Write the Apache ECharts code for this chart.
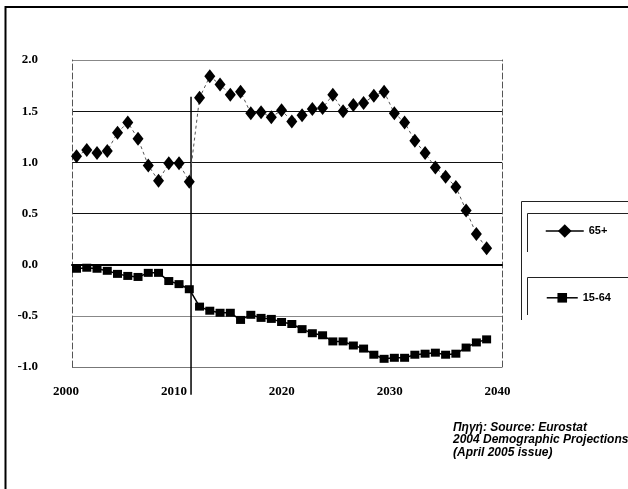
<!DOCTYPE html>
<html>
<head>
<meta charset="utf-8">
<script src="https://cdn.jsdelivr.net/npm/echarts@6/dist/echarts.min.js"></script>
<style>
  html, body { margin: 0; padding: 0; background: #fff; }
  #chart { width: 628px; height: 489px; }
</style>
</head>
<body>
<div id="chart"></div>
<script>
var years = [2000, 2001, 2002, 2003, 2004, 2005, 2006, 2007, 2008, 2009,
  2010, 2011, 2012, 2013, 2014, 2015, 2016, 2017, 2018, 2019,
  2020, 2021, 2022, 2023, 2024, 2025, 2026, 2027, 2028, 2029,
  2030, 2031, 2032, 2033, 2034, 2035, 2036, 2037, 2038, 2039, 2040];

// 65+
var older = [1.06, 1.12, 1.09, 1.11, 1.29, 1.39, 1.23, 0.97, 0.82, 0.99,
  0.99, 0.81, 1.63, 1.84, 1.76, 1.66, 1.69, 1.48, 1.49, 1.44,
  1.51, 1.40, 1.46, 1.52, 1.53, 1.66, 1.50, 1.56, 1.58, 1.65,
  1.69, 1.48, 1.39, 1.21, 1.09, 0.95, 0.86, 0.76, 0.53, 0.30, 0.16];

// 15-64
var working = [-0.04, -0.03, -0.04, -0.06, -0.09, -0.11, -0.12, -0.08, -0.08, -0.16,
  -0.19, -0.24, -0.41, -0.45, -0.47, -0.47, -0.54, -0.49, -0.52, -0.53,
  -0.56, -0.58, -0.63, -0.67, -0.69, -0.75, -0.75, -0.79, -0.82, -0.88,
  -0.92, -0.91, -0.91, -0.88, -0.87, -0.86, -0.88, -0.87, -0.81, -0.76, -0.73];

var yearTicks = [2000, 2010, 2020, 2030, 2040];

// vertical divider line
var dividerYear = 2011.17;
var dividerRange = [1.64, -1.27];

var chart = echarts.init(document.getElementById('chart'));

var labelFont = {
  fontFamily: 'Liberation Serif',
  fontWeight: 'bold',
  fontSize: 13,
  color: '#000'
};

var option = {
  backgroundColor: '#fff',
  animation: false,
  title: {
    text: 'Πηγή: Source: Eurostat\n2004 Demographic Projections\n(April 2005 issue)',
    left: 453,
    top: 421,
    padding: 0,
    textStyle: {
      fontFamily: 'Liberation Sans',
      fontStyle: 'italic',
      fontWeight: 'bold',
      fontSize: 12,
      lineHeight: 12.5,
      color: '#000'
    }
  },
  legend: [
    {
      data: ['65+'],
      left: 545,
      top: 224.2,
      padding: 0,
      itemWidth: 38,
      itemHeight: 17,
      lineStyle: { color: '#000', width: 1.5, type: 'solid' },
      textStyle: { fontFamily: 'Liberation Sans', fontWeight: 'bold', fontSize: 11, color: '#000' }
    },
    {
      data: ['15-64'],
      left: 546,
      top: 292.3,
      padding: 0,
      itemWidth: 31,
      itemHeight: 12,
      lineStyle: { color: '#000', width: 1.5, type: 'solid' },
      textStyle: { fontFamily: 'Liberation Sans', fontWeight: 'bold', fontSize: 11, color: '#000' }
    }
  ],
  graphic: [
    { type: 'polyline', shape: { points: [[5.5, 489], [5.5, 7], [628, 7]] },
      style: { stroke: '#000', lineWidth: 2, fill: null }, silent: true },
    { type: 'polyline', shape: { points: [[628, 201.5], [521.5, 201.5], [521.5, 320]] },
      style: { stroke: '#222', lineWidth: 1, fill: null }, silent: true },
    { type: 'polyline', shape: { points: [[628, 213.5], [527.5, 213.5], [527.5, 252]] },
      style: { stroke: '#222', lineWidth: 1, fill: null }, silent: true },
    { type: 'polyline', shape: { points: [[628, 277.5], [527.5, 277.5], [527.5, 315]] },
      style: { stroke: '#222', lineWidth: 1, fill: null }, silent: true }
  ],
  grid: [
    { left: 72, right: 126, top: 60, bottom: 122 },
    { left: 66, right: 130.5, top: 60, bottom: 122 },
    { left: 72, right: 126, top: 60, bottom: 81.07 }
  ],
  xAxis: [
    {
      gridIndex: 0,
      type: 'value',
      min: 1999.56,
      max: 2041.5,
      axisLine: { show: true, onZero: true, lineStyle: { color: '#000', width: 2 } },
      axisTick: { show: false },
      axisLabel: { show: false },
      splitLine: { show: false }
    },
    {
      gridIndex: 1,
      type: 'value',
      min: yearTicks[0],
      max: yearTicks[yearTicks.length - 1],
      interval: 10,
      axisLine: { show: false },
      axisTick: { show: false },
      splitLine: { show: false },
      axisLabel: Object.assign({
        margin: 18,
        formatter: function (v) { return String(v); }
      }, labelFont)
    },
    {
      gridIndex: 2,
      type: 'value',
      min: 1999.56,
      max: 2041.5,
      show: false
    }
  ],
  yAxis: [
    {
      gridIndex: 0,
      type: 'value',
      min: -1,
      max: 2,
      interval: 0.5,
      axisLine: { show: true, lineStyle: { color: '#555', width: 1, type: [6, 3] } },
      axisTick: { show: false },
      axisLabel: Object.assign({
        margin: 34,
        formatter: function (v) { return v.toFixed(1); }
      }, labelFont),
      splitLine: {
        show: true,
        lineStyle: {
          color: ['#777', '#888', '#000', '#111', '#111', '#111', '#888'],
          width: 1
        }
      }
    },
    {
      gridIndex: 0,
      type: 'value',
      position: 'right',
      min: -1,
      max: 2,
      axisLine: { show: true, lineStyle: { color: '#555', width: 1, type: [6, 3] } },
      axisTick: { show: false },
      axisLabel: { show: false },
      splitLine: { show: false }
    },
    { gridIndex: 1, type: 'value', min: 0, max: 1, show: false },
    { gridIndex: 2, type: 'value', min: -1.4, max: 2, show: false }
  ],
  series: [
    {
      name: 'divider',
      type: 'line',
      xAxisIndex: 2,
      yAxisIndex: 3,
      silent: true,
      symbol: 'none',
      lineStyle: { color: '#000', width: 1.5 },
      data: [[dividerYear, dividerRange[0]], [dividerYear, dividerRange[1]]],
      z: 1
    },
    {
      name: '65+',
      type: 'line',
      xAxisIndex: 0,
      yAxisIndex: 0,
      symbol: 'diamond',
      symbolSize: [11, 14],
      itemStyle: { color: '#000' },
      lineStyle: { color: '#555', width: 1, type: [3, 3] },
      data: years.map(function (y, i) { return [y, older[i]]; }),
      z: 3
    },
    {
      name: '15-64',
      type: 'line',
      xAxisIndex: 0,
      yAxisIndex: 0,
      symbol: 'rect',
      symbolSize: [9, 8],
      itemStyle: { color: '#000' },
      lineStyle: { color: '#000', width: 1.5 },
      data: years.map(function (y, i) { return [y, working[i]]; }),
      z: 3
    }
  ]
};

chart.setOption(option);
</script>
</body>
</html>
